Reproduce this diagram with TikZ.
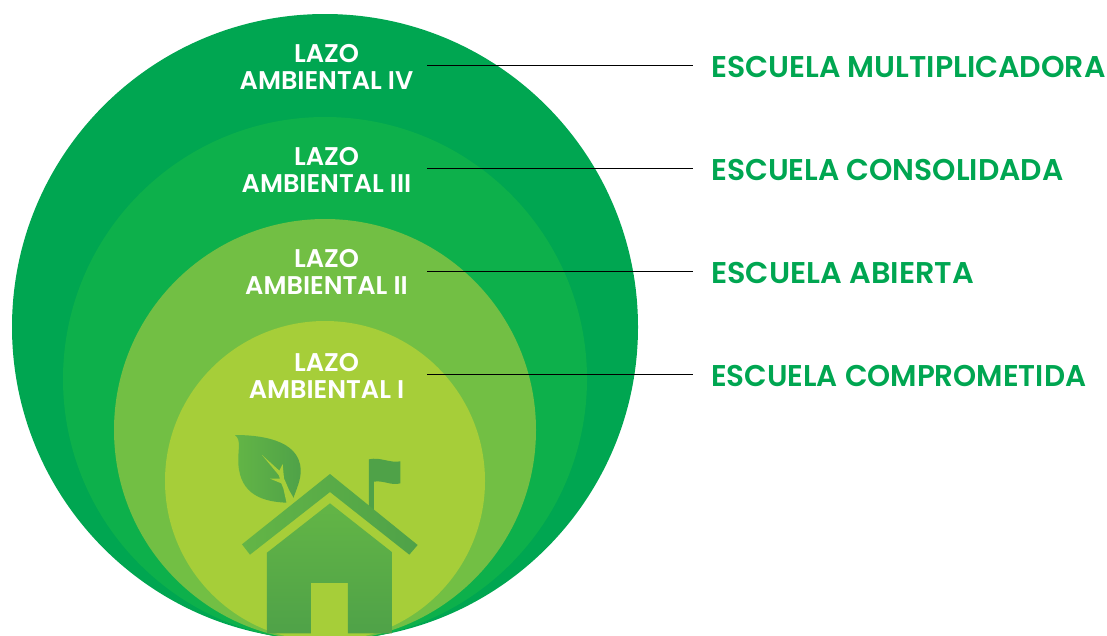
\documentclass[tikz,border=0pt]{standalone}
\usepackage{fontspec}
\setmainfont{Poppins}
\newfontfamily\lblfont{Poppins SemiBold}
\definecolor{cfour}{HTML}{00A651}
\definecolor{cthree}{HTML}{0DB04B}
\definecolor{ctwo}{HTML}{72BF44}
\definecolor{cone}{HTML}{A6CE39}
\definecolor{hlight}{HTML}{63B546}
\definecolor{hdark}{HTML}{4FA248}
\tikzset{
  ring/.style={draw=none},
  lazo/.style={text=white,align=center,inner sep=0pt,font=\lblfont\fontsize{25.6}{27}\selectfont},
  escuela/.style={text=cfour,anchor=west,inner sep=0pt,font=\lblfont\fontsize{30}{32}\selectfont},
  leader/.style={draw=black,line width=1pt,shorten >=18pt},
  light/.style={draw=none,fill=cone}
}
\begin{document}
\begin{tikzpicture}[x=1pt,y=-1pt]
\useasboundingbox (0,0) rectangle (1107,635);
\clip (0,0) rectangle (1107,635);
\fill[ring,cfour] (325,327) circle (313pt);
\fill[ring,cthree] (325,379) circle (262pt);
\fill[ring,ctwo] (325,430) circle (211pt);
\fill[ring,cone] (325,481) circle (160pt);
\begin{scope}[shift={(200,420)},x=0.3333pt,y=-0.3333pt]
  % leaf
  \path[ring,left color=hlight,right color=hdark]
    (105,45) .. controls (170,45) and (300,55) .. (302,150)
    .. controls (303,180) and (290,205) .. (280,235)
    -- (258,248) .. controls (190,245) and (120,225) .. (115,130)
    .. controls (113,90) and (125,60) .. (105,45) -- cycle;
  \path[light] (186,105) -- (238,152) -- (248,132) -- (252,175) -- (268,212) -- (282,236)
    -- (260,250) -- (250,205) -- (244,190) -- (210,176) -- (240,176) -- (236,165) -- cycle;
  % flag
  \path[ring,fill=hdark] (507,118) .. controls (540,110) and (570,130) .. (601,124)
    -- (601,190) .. controls (575,198) and (550,180) .. (522,185)
    -- (522,275) -- (507,265) -- cycle;
  % roof
  \path[ring,left color=hlight,right color=hdark]
    (390,162) -- (653,375) -- (628,404) -- (390,216) -- (150,404) -- (126,373) -- cycle;
  % body
  \path[ring,top color=hlight,bottom color=hdark]
    (390,250) -- (578,398) -- (578,640) -- (444,640) -- (444,489) -- (333,489) -- (333,640)
    -- (201,640) -- (201,398) -- cycle;
\end{scope}
\node[lazo] (l4) at (326.5,66.5) {LAZO\\AMBIENTAL IV};
\node[lazo] (l3) at (326.5,170) {LAZO\\AMBIENTAL III};
\node[lazo] (l2) at (326.5,272) {LAZO\\AMBIENTAL II};
\node[lazo] (l1) at (326.5,376) {LAZO\\AMBIENTAL I};
\node[escuela] (e4) at (711,67) {ESCUELA MULTIPLICADORA};
\node[escuela,xscale=.992] (e3) at (711,170) {ESCUELA CONSOLIDADA};
\node[escuela,xscale=1.012] (e2) at (711,273) {ESCUELA ABIERTA};
\node[escuela,xscale=.98] (e1) at (711,376) {ESCUELA COMPROMETIDA};
\coordinate (a4) at (427,65.5);
\coordinate (a3) at (427,168.5);
\coordinate (a2) at (427,271.5);
\coordinate (a1) at (427,374.5);
\draw[leader] (a4) -- (a4 -| e4.west);
\draw[leader] (a3) -- (a3 -| e3.west);
\draw[leader] (a2) -- (a2 -| e2.west);
\draw[leader] (a1) -- (a1 -| e1.west);
\end{tikzpicture}
\end{document}
